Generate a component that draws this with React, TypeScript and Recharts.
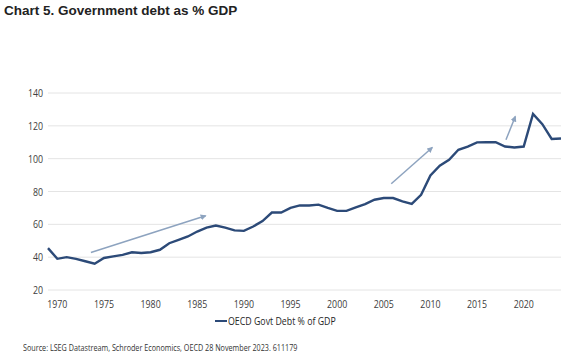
import React from 'react';
import { LineChart, Line, XAxis, YAxis, CartesianGrid, Legend, ReferenceLine } from 'recharts';

const years = [1969,1970,1971,1972,1973,1974,1975,1976,1977,1978,1979,1980,1981,1982,1983,1984,1985,1986,1987,1988,1989,1990,1991,1992,1993,1994,1995,1996,1997,1998,1999,2000,2001,2002,2003,2004,2005,2006,2007,2008,2009,2010,2011,2012,2013,2014,2015,2016,2017,2018,2019,2020,2021,2022,2023,2024];
const debt = [45.5,39,40,39,37.5,36,39.5,40.5,41.4,43,42.5,43,44.5,48.5,50.5,52.6,55.6,58,59.3,58,56.3,56,58.7,62,67.2,67.2,70,71.5,71.5,72,70,68.2,68.2,70.3,72.3,75,76,76,74,72.5,78,89.8,95.7,99.3,105.4,107.4,109.9,110,110,107.4,106.8,107.4,127.2,121,112,112.3];
const xTicks = [1970,1975,1980,1985,1990,1995,2000,2005,2010,2015,2020];
const yTicks = [20,40,60,80,100,120,140];
const arrows = [
  { from: [1973.6, 42.8], to: [1985.9, 65.2] },
  { from: [2005.8, 84.7], to: [2010.2, 106.8] },
  { from: [2018.1, 111.5], to: [2019.1, 125.7] },
];

const data = years.map((y, i) => ({ year: y, debt: debt[i] }));

const LINE = '#2c4a78';
const ARROW = '#8da3bf';
const TICK = '#404040';
const FONT = '"Open Sans", "Liberation Sans", Arial, sans-serif';

const ArrowShape = (p: any) => {
  const id = 'ah';
  return (
    <g>
      <defs>
        <marker id={id} markerWidth="6" markerHeight="6" refX="5" refY="3" orient="auto" markerUnits="userSpaceOnUse">
          <path d="M0,0 L6,3 L0,6 Z" fill={ARROW} />
        </marker>
      </defs>
      <line x1={p.x1} y1={p.y1} x2={p.x2} y2={p.y2} stroke={ARROW} strokeWidth={1.5} markerEnd={`url(#${id})`} />
    </g>
  );
};

const XTick = (p: any) => (
  <text transform={`translate(${p.x},${p.y + 10}) scale(0.8,1)`} textAnchor="middle" fill={TICK} fontSize={11} fontFamily={FONT}>
    {p.payload.value}
  </text>
);

const YTick = (p: any) => (
  <text transform={`translate(${p.x + 1},${p.y + 4}) scale(0.8,1)`} textAnchor="end" fill={TICK} fontSize={11} fontFamily={FONT}>
    {p.payload.value}
  </text>
);

const LegendContent = () => (
  <div style={{ display: 'flex', justifyContent: 'flex-start', alignItems: 'center', paddingLeft: 215 }}>
    <svg width={12} height={10} style={{ marginRight: 1, flexShrink: 0 }}>
      <line x1={0} y1={5} x2={12} y2={5} stroke={LINE} strokeWidth={2} />
    </svg>
    <span style={{ display: 'inline-block', whiteSpace: 'nowrap', fontFamily: FONT, fontSize: 11, color: '#262626', transform: 'scaleX(0.8)', transformOrigin: 'left center' }}>
      OECD Govt Debt % of GDP
    </span>
  </div>
);

export default function App() {
  return (
    <div style={{ position: 'absolute', left: 0, top: 0, width: 576, height: 361, background: '#fff', overflow: 'hidden' }}>
      <div style={{ position: 'absolute', left: 4, top: 3, fontFamily: 'Arial, "Liberation Sans", sans-serif', fontWeight: 'bold', fontSize: 13.5, color: '#222' }}>
        Chart 5. Government debt as % GDP
      </div>
      <LineChart width={576} height={361} data={data} margin={{ top: 93, right: 15, left: 0, bottom: 32 }}>
        <CartesianGrid vertical={false} stroke="#e4e4e4" strokeWidth={1} />
        <XAxis
          dataKey="year"
          type="number"
          domain={[1969, 2024]}
          ticks={xTicks}
          axisLine={false}
          tickLine={false}
          height={23}
          tick={XTick}
          interval={0}
        />
        <YAxis
          domain={[20, 140]}
          ticks={yTicks}
          axisLine={false}
          tickLine={false}
          width={48}
          tickMargin={0}
          tick={YTick}
        />
        {arrows.map((a, i) => (
          <ReferenceLine key={i} segment={[{ x: a.from[0], y: a.from[1] }, { x: a.to[0], y: a.to[1] }]} shape={ArrowShape} ifOverflow="visible" />
        ))}
        <Line type="linear" dataKey="debt" stroke={LINE} strokeWidth={2.4} dot={false} isAnimationActive={false} name="OECD Govt Debt % of GDP" />
        <Legend verticalAlign="bottom" height={16} content={LegendContent} />
      </LineChart>
      <div style={{ position: 'absolute', left: 23, top: 341, fontFamily: FONT, fontSize: 9, color: '#333', whiteSpace: 'nowrap', transform: 'scaleX(0.8)', transformOrigin: 'left center' }}>
        Source: LSEG Datastream, Schroder Economics, OECD 28 November 2023. 611179
      </div>
    </div>
  );
}
